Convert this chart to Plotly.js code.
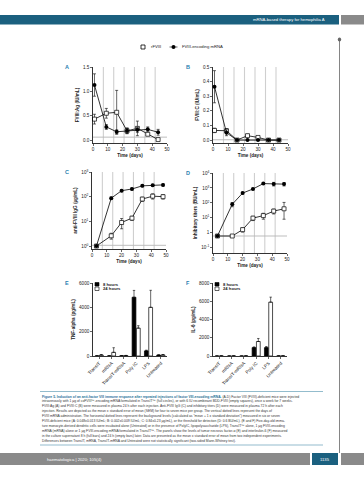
<!DOCTYPE html>
<html><head><meta charset="utf-8">
<script src="https://cdn.plot.ly/plotly-3.0.1.min.js"></script>
<style>html,body{margin:0;padding:0;background:#fff;}#chart{width:364px;height:480px;}</style>
</head><body><div id="chart"></div>
<script>
// ---------- DATA ----------
const daysAB = [1, 9, 16, 23, 30, 37, 44];
const agMRNA = [1.13, 0.27, 0.17, 0.19, 0.21, 0.22, 0.16];
const agMRNAerr = [0.23, 0.05, 0.04, 0.05, 0.05, 0.05, 0.06];
const agRF = [0.43, 0.55, 0.57, 0.19, 0.24, 0.12, 0.01];
const agRFerr = [0.10, 0.10, 0.45, 0.06, 0.15, 0.02, 0.01];

const cMRNA = [0.365, 0.05, 0, 0, 0, 0, 0];
const cMRNAerr = [0.11, 0.02, 0, 0, 0, 0, 0];
const cRF = [0.066, 0.064, 0, 0.03, 0.018, 0, 0];
const cRFerr = [0.015, 0.015, 0, 0.01, 0.005, 0, 0];

const daysCD = [3, 13, 20, 27, 34, 41, 48];
const iggMRNA = [1, 87, 175, 205, 275, 290, 300];
const iggMRNAerr = [0, 10, 15, 20, 25, 25, 30];
const iggRF = [1, 2.6, 9, 13.5, 80, 105, 100];
const iggRFerr = [0, 0.7, 4, 2.5, 15, 25, 20];

const inhMRNA = [0.6, 80, 450, 850, 1950, 1850, 1800];
const inhMRNAerr = [0, 25, 60, 100, 250, 500, 450];
const inhRF = [0.6, 0.6, 1.6, 9.5, 14, 28, 40];
const inhRFerrPlus = [0, 0, 0.5, 3, 6, 10, 67];
const inhRFerrMinus = [0, 0, 0.5, 3, 6, 10, 32];

const injectionDays = [7, 14, 21, 28, 35, 42];
const background = {A: 0.06, B: 0.002, C: 1.07, D: 0.6};

const categories = ["TransIT", "mRNA", "TransIT-mRNA", "Poly IC", "LPS", "Untreated"];
const tnf8 = [10, 10, 20, 4830, 420, 80];
const tnf8err = [10, 10, 10, 560, 60, 20];
const tnf24 = [80, 300, 30, 2290, 4000, 90];
const tnf24err = [40, 380, 20, 200, 1400, 30];
const il6_8 = [0, 0, 0, 920, 920, 10];
const il6_8err = [0, 0, 0, 80, 120, 0];
const il6_24 = [10, 10, 10, 1590, 5900, 10];
const il6_24err = [5, 5, 5, 330, 550, 5];

const captionLines = [
 '<span style="color:#1f6f96"><b>Figure 5. Induction of an anti-factor VIII immune response after repeated injections of factor VIII-encoding mRNA.</b></span> (A-D) Factor VIII (FVIII)-deficient mice were injected',
 'intravenously with 1 µg of coFVIII™-encoding mRNA formulated in TransIT™ (full circles), or with 6 IU recombinant BDD-FVIII (empty squares), once a week for 7 weeks.',
 'FVIII:Ag (A) and FVIII:C (B) were measured in plasma 24 h after each injection. Anti-FVIII IgG (C) and inhibitory titers (D) were measured in plasma 72 h after each',
 'injection. Results are depicted as the mean ± standard error of mean (SEM) for four to seven mice per group. The vertical dotted lines represent the days of',
 'FVIII mRNA administration. The horizontal dotted lines represent the background levels (calculated as "mean + 1 x standard deviation") measured in six or seven',
 'FVIII-deficient mice (A: 0.048±0.013 IU/mL; B: 0.002±0.009 IU/mL; C: 0.84±0.23 µg/mL), or the threshold for detection (D: 0.6 BU/mL). (E and F) Five-day-old imma-',
 'ture monocyte-derived dendritic cells were incubated alone (Untreated) or in the presence of PolyIC, lipopolysaccharide (LPS), TransIT™ alone, 1 µg FVIII-encoding',
 'mRNA (mRNA) alone or 1 µg FVIII-encoding mRNA formulated in TransIT™. The panels show the levels of tumor necrosis factor-α (E) and interleukin-6 (F) measured',
 'in the culture supernatant 8 h (full bars) and 24 h (empty bars) later. Data are presented as the mean ± standard error of mean from two independent experiments.',
 'Differences between TransIT, mRNA, TransIT-mRNA and Untreated were not statistically significant (two-sided Mann-Whitney test).'
];

// ---------- HELPERS ----------
const W = 364, H = 480;
const px = x => x / W;
const py = y => 1 - y / H;
const FONT = "Liberation Sans, Arial, sans-serif";
const tickFont = {family: FONT, size: 4.6, color: '#222'};
const titleFont = {family: FONT, size: 4.6, color: '#222', weight: 'bold'};

function errObj(arr, minus) {
  const o = {type: 'data', array: arr, color: '#000', thickness: 0.6, width: 1.5, visible: true};
  if (minus) { o.symmetric = false; o.arrayminus = minus; }
  return o;
}
function lineTrace(x, y, err, xa, ya, filled, minus) {
  return {
    type: 'scatter', mode: 'lines+markers', x: x, y: y, xaxis: xa, yaxis: ya,
    line: {color: '#000', width: 0.8},
    marker: filled ? {symbol: 'circle', size: 4, color: '#000'} :
      {symbol: 'square', size: 4, color: '#fff', line: {color: '#000', width: 0.7}},
    error_y: errObj(err, minus), showlegend: false, cliponaxis: false
  };
}
function barTrace(y, err, xa, ya, filled) {
  return {
    type: 'bar', x: categories, y: y, xaxis: xa, yaxis: ya,
    marker: {color: filled ? '#000' : '#fff', line: {color: '#000', width: 0.7}},
    error_y: {type: 'data', symmetric: false, array: err, arrayminus: err.map(() => 0),
      color: '#000', thickness: 0.6, width: 1.2},
    showlegend: false
  };
}

const traces = [
  lineTrace(daysAB, agRF, agRFerr, 'x', 'y', false),
  lineTrace(daysAB, agMRNA, agMRNAerr, 'x', 'y', true),
  lineTrace(daysAB, cRF, cRFerr, 'x2', 'y2', false),
  lineTrace(daysAB, cMRNA, cMRNAerr, 'x2', 'y2', true),
  lineTrace(daysCD, iggRF, iggRFerr, 'x3', 'y3', false),
  lineTrace(daysCD, iggMRNA, iggMRNAerr, 'x3', 'y3', true),
  lineTrace(daysCD, inhRF, inhRFerrPlus, 'x4', 'y4', false, inhRFerrMinus),
  lineTrace(daysCD, inhMRNA, inhMRNAerr, 'x4', 'y4', true),
  barTrace(tnf8, tnf8err, 'x5', 'y5', true),
  barTrace(tnf24, tnf24err, 'x5', 'y5', false),
  barTrace(il6_8, il6_8err, 'x6', 'y6', true),
  barTrace(il6_24, il6_24err, 'x6', 'y6', false)
];

function baseAxis(extra) {
  return Object.assign({
    showline: true, linecolor: '#000', linewidth: 0.8, showgrid: false, zeroline: false,
    ticks: 'outside', ticklen: 2, tickwidth: 0.6, tickcolor: '#000', tickfont: tickFont,
    automargin: false, fixedrange: true
  }, extra);
}
function timeAxis(domain, anchor) {
  return baseAxis({domain: domain, anchor: anchor, range: [0, 50], tickvals: [0, 10, 20, 30, 40, 50],
    title: {text: 'Time (days)', font: titleFont, standoff: 2}});
}

const layout = {
  width: W, height: H, margin: {l: 0, r: 0, t: 0, b: 0},
  paper_bgcolor: '#fff', plot_bgcolor: 'rgba(0,0,0,0)', showlegend: false,
  barmode: 'group', bargap: 0.3, bargroupgap: 0.12,
  font: {family: FONT},
  xaxis: timeAxis([px(93), px(167)], 'y'),
  yaxis: baseAxis({domain: [py(143), py(67)], anchor: 'x', range: [-0.06, 1.5],
    tickvals: [0, 0.5, 1.0, 1.5], tickformat: '.1f', title: {text: 'FVIII:Ag (IU/mL)', font: titleFont, standoff: 3}}),
  xaxis2: timeAxis([px(213), px(288)], 'y2'),
  yaxis2: baseAxis({domain: [py(143), py(67)], anchor: 'x2', range: [-0.02, 0.5],
    tickvals: [0, 0.1, 0.2, 0.3, 0.4, 0.5], tickformat: '.1f', title: {text: 'FVIII:C (IU/mL)', font: titleFont, standoff: 3}}),
  xaxis3: timeAxis([px(92), px(166)], 'y3'),
  yaxis3: baseAxis({domain: [py(249), py(172)], anchor: 'x3', type: 'log', range: [-0.12, 3],
    tickvals: [1, 10, 100, 1000], ticktext: ['10<sup>0</sup>', '10<sup>1</sup>', '10<sup>2</sup>', '10<sup>3</sup>'],
    title: {text: 'anti-FVIII IgG (µg/mL)', font: titleFont, standoff: 3}}),
  xaxis4: timeAxis([px(213), px(287)], 'y4'),
  yaxis4: baseAxis({domain: [py(253), py(173)], anchor: 'x4', type: 'log', range: [-1.36, 4],
    tickvals: [0.1, 1, 10, 100, 1000, 10000],
    ticktext: ['10<sup>-1</sup>', '1', '10<sup>1</sup>', '10<sup>2</sup>', '10<sup>3</sup>', '10<sup>4</sup>'],
    title: {text: 'Inhibitory titers (BU/mL)', font: titleFont, standoff: 3}}),
  xaxis5: baseAxis({domain: [px(93), px(167)], anchor: 'y5', type: 'category', tickangle: -45}),
  yaxis5: baseAxis({domain: [py(356), py(283)], anchor: 'x5', range: [0, 6000],
    tickvals: [0, 2000, 4000, 6000], title: {text: 'TNF-alpha (pg/mL)', font: titleFont, standoff: 3}}),
  xaxis6: baseAxis({domain: [px(213), px(287)], anchor: 'y6', type: 'category', tickangle: -45}),
  yaxis6: baseAxis({domain: [py(356), py(283)], anchor: 'x6', range: [0, 8000],
    tickvals: [0, 2000, 4000, 6000, 8000], title: {text: 'IL-6 (pg/mL)', font: titleFont, standoff: 3}}),
  shapes: [], annotations: []
};

// injection-day lines and background lines
const panelAxes = [['x', 'y', 'A'], ['x2', 'y2', 'B'], ['x3', 'y3', 'C'], ['x4', 'y4', 'D']];
panelAxes.forEach(([xa, ya, k]) => {
  injectionDays.forEach(d => layout.shapes.push({type: 'line', xref: xa, yref: ya + ' domain',
    x0: d, x1: d, y0: 0, y1: 1, line: {color: '#cfcfcf', width: 1.1}, layer: 'below'}));
  layout.shapes.push({type: 'line', xref: xa + ' domain', yref: ya, x0: 0, x1: 1,
    y0: background[k], y1: background[k], line: {color: '#b5b5b5', width: 0.9}, layer: 'below'});
});

// page decoration: header, footer, margin rule
const S = layout.shapes;
S.push({type: 'rect', xref: 'paper', yref: 'paper', x0: 0, x1: px(339), y0: py(24.5), y1: py(15), fillcolor: '#1b607f', line: {width: 0}});
S.push({type: 'rect', xref: 'paper', yref: 'paper', x0: px(341), x1: 1, y0: py(24.5), y1: py(15), fillcolor: '#8a8a8a', line: {width: 0}});
S.push({type: 'rect', xref: 'paper', yref: 'paper', x0: 0, x1: px(310), y0: py(465), y1: py(453), fillcolor: '#8a8a8a', line: {width: 0}});
S.push({type: 'rect', xref: 'paper', yref: 'paper', x0: px(312), x1: px(338), y0: py(465), y1: py(453), fillcolor: '#1b607f', line: {width: 0}});
S.push({type: 'rect', xref: 'paper', yref: 'paper', x0: px(341), x1: 1, y0: py(465), y1: py(453), fillcolor: '#8a8a8a', line: {width: 0}});
S.push({type: 'line', xref: 'paper', yref: 'paper', x0: px(339.5), x1: px(339.5), y0: py(453), y1: py(40), line: {color: '#666', width: 0.8}});
S.push({type: 'circle', xref: 'paper', yref: 'paper', x0: px(337.8), x1: px(341.2), y0: py(41.5), y1: py(37.5), fillcolor: '#666', line: {width: 0}});
S.push({type: 'line', xref: 'paper', yref: 'paper', x0: px(40), x1: px(323), y0: py(391.5), y1: py(391.5), line: {color: '#4a8fab', width: 0.6}});
S.push({type: 'line', xref: 'paper', yref: 'paper', x0: px(40), x1: px(323), y0: py(445), y1: py(445), line: {color: '#4a8fab', width: 0.6}});

// top legend swatches
S.push({type: 'rect', xref: 'paper', yref: 'paper', x0: px(141), x1: px(145), y0: py(49), y1: py(45), fillcolor: '#fff', line: {color: '#000', width: 0.8}});
S.push({type: 'circle', xref: 'paper', yref: 'paper', x0: px(171.5), x1: px(175.5), y0: py(49), y1: py(45), fillcolor: '#000', line: {width: 0}});
S.push({type: 'line', xref: 'paper', yref: 'paper', x0: px(169.5), x1: px(177.5), y0: py(47), y1: py(47), line: {color: '#000', width: 0.6}});
// bar legends (E and F)
[[95], [215]].forEach(([x0]) => {
  S.push({type: 'rect', xref: 'paper', yref: 'paper', x0: px(x0), x1: px(x0 + 4), y0: py(286), y1: py(282.5), fillcolor: '#000', line: {color: '#000', width: 0.6}});
  S.push({type: 'rect', xref: 'paper', yref: 'paper', x0: px(x0), x1: px(x0 + 4), y0: py(290.5), y1: py(287), fillcolor: '#fff', line: {color: '#000', width: 0.6}});
});

const A = layout.annotations;
function txt(x, y, text, size, color, anchor, extra) {
  A.push(Object.assign({xref: 'paper', yref: 'paper', x: px(x), y: py(y), text: text, showarrow: false,
    xanchor: anchor || 'left', yanchor: 'middle', font: {family: FONT, size: size, color: color}}, extra || {}));
}
txt(327, 20, 'mRNA-based therapy for hemophilia A', 4.2, '#fff', 'right');
txt(45, 459, 'haematologica | 2020; 105(4)', 4.2, '#fff', 'left');
txt(325, 459, '1135', 4.2, '#fff', 'center');
txt(149, 47, 'rFVIII', 4.2, '#222', 'left');
txt(180, 47, 'FVIII-encoding mRNA', 4.2, '#222', 'left');
[95, 215].forEach(x0 => {
  txt(x0 + 6, 284.3, '<b>8 hours</b>', 4.2, '#222', 'left');
  txt(x0 + 6, 288.8, '<b>24 hours</b>', 4.2, '#222', 'left');
});
[['A', 63, 67], ['B', 184, 67], ['C', 63, 172], ['D', 184, 173], ['E', 63, 283], ['F', 184, 283]].forEach(([l, x, y]) =>
  txt(x, y, '<b>' + l + '</b>', 5.5, '#2a7fb0', 'left'));
captionLines.forEach((line, i) => txt(40, 396.5 + i * 4.94, line, 3.35, '#333', 'left'));

Plotly.newPlot('chart', traces, layout, {staticPlot: true, displayModeBar: false});
</script></body></html>
